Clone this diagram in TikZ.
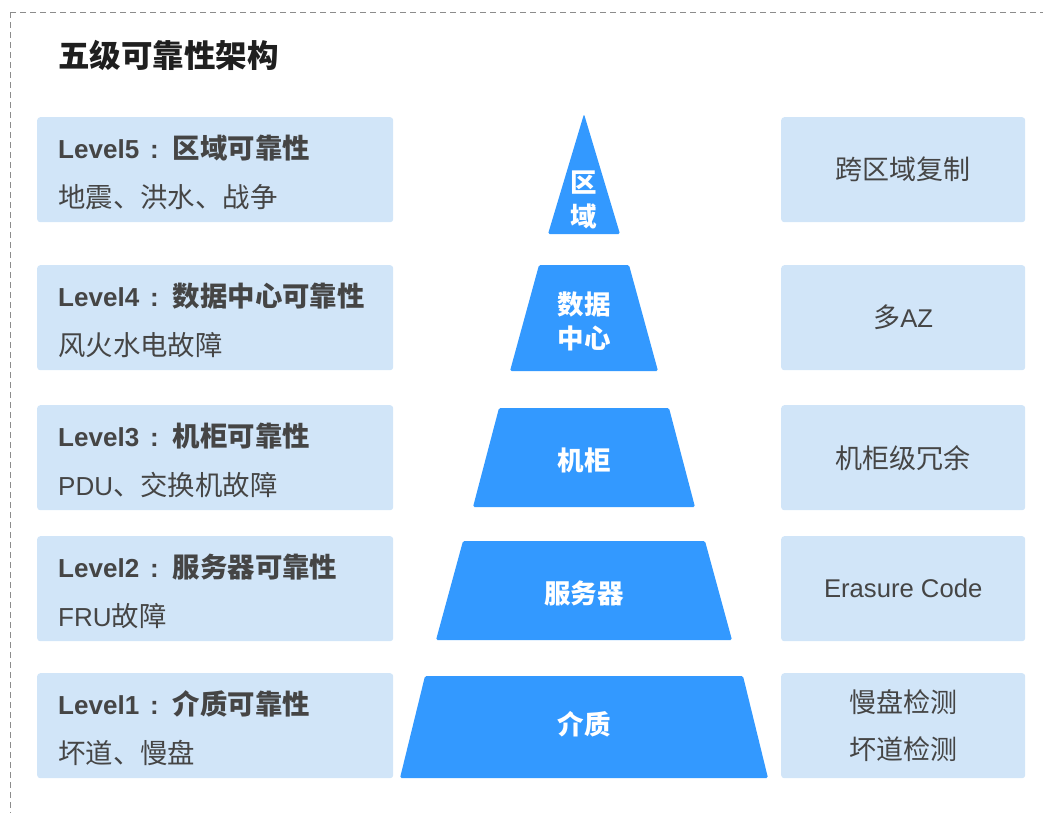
\documentclass[tikz,border=0pt]{standalone}
\usepackage{fontspec}
\setmainfont{Noto Sans CJK SC}
\newfontfamily\lat[Scale=0.95]{Liberation Sans}
\usetikzlibrary{positioning}
\definecolor{tierblue}{HTML}{3399FF}
\definecolor{cardfill}{HTML}{D1E5F8}
\definecolor{txtgray}{HTML}{454545}
\definecolor{framegray}{HTML}{8C8C8C}

\begin{document}
\begin{tikzpicture}[x=1pt,y=-1pt,
  frame/.style={draw=framegray,line width=1pt,dash pattern=on 6pt off 4pt},
  card/.style={fill=cardfill,rounded corners=3pt,anchor=north west,inner sep=0pt,minimum height=105pt},
  lcard/.style={card,minimum width=356pt},
  rcard/.style={card,minimum width=244pt},
  head/.style={anchor=west,inner sep=0pt,text=txtgray,font=\bfseries\fontsize{27.4}{30}\selectfont},
  desc/.style={anchor=west,inner sep=0pt,text=txtgray,font=\fontsize{27.4}{30}\selectfont},
  fix/.style={align=center,inner sep=0pt,text=txtgray,font=\fontsize{27}{47}\selectfont},
  tier/.style={fill=tierblue,rounded corners=1.5pt},
  tierlbl/.style={align=center,inner sep=0pt,text=white,font=\bfseries\fontsize{26.5}{34}\selectfont}]
\useasboundingbox (0,0) rectangle (1043,812);
\draw[frame] (10,12) rectangle (1070,840);
\node[anchor=west,inner sep=0pt,text=black!88,font=\bfseries\fontsize{31.5}{34}\selectfont] (ttl) at (58,55) {五级可靠性架构};
% left and right cards
\foreach \n/\ty/\hd/\ds/\rt in {
  5/117/区域可靠性/{地震、洪水、战争}/跨区域复制,
  4/265/数据中心可靠性/风火水电故障/多{\lat AZ},
  3/405/机柜可靠性/{{\lat PDU}、交换机故障}/机柜级冗余,
  2/536/服务器可靠性/{{\lat FRU}故障}/{\lat Erasure Code},
  1/673/介质可靠性/{坏道、慢盘}/{慢盘检测\\坏道检测}}{
  \node[lcard] (l\n) at (37,\ty) {};
  \node[head] (h\n) at ([xshift=21pt,yshift=-31pt]l\n.north west) {{\lat Level\n\hspace{11pt}:\hspace{14pt}}\hd};
  \node[desc] (d\n) at ([xshift=21pt,yshift=-80pt]l\n.north west) {\ds};
  \node[rcard] (r\n) at (781,\ty) {};
  \node[fix] (f\n) at (r\n.center) {\rt};
}
% pyramid
\fill[tier] (584,114) -- (620,234) -- (548,234) -- cycle;
\node[tierlbl] (p5) at (584,200) {区\\域};
\foreach \n/\ta/\tb/\wa/\wb/\ly/\lb in {
  4/265/371/45/74/321/{数据\\中心},
  3/408/507/85/111/460/机柜,
  2/541/640/121/148/593/服务器,
  1/676/778/159/184/724/介质}{
  \fill[tier] (584-\wa,\ta) -- (584+\wa,\ta) -- (584+\wb,\tb) -- (584-\wb,\tb) -- cycle;
  \node[tierlbl] (p\n) at (584,\ly) {\lb};
}
\end{tikzpicture}
\end{document}
